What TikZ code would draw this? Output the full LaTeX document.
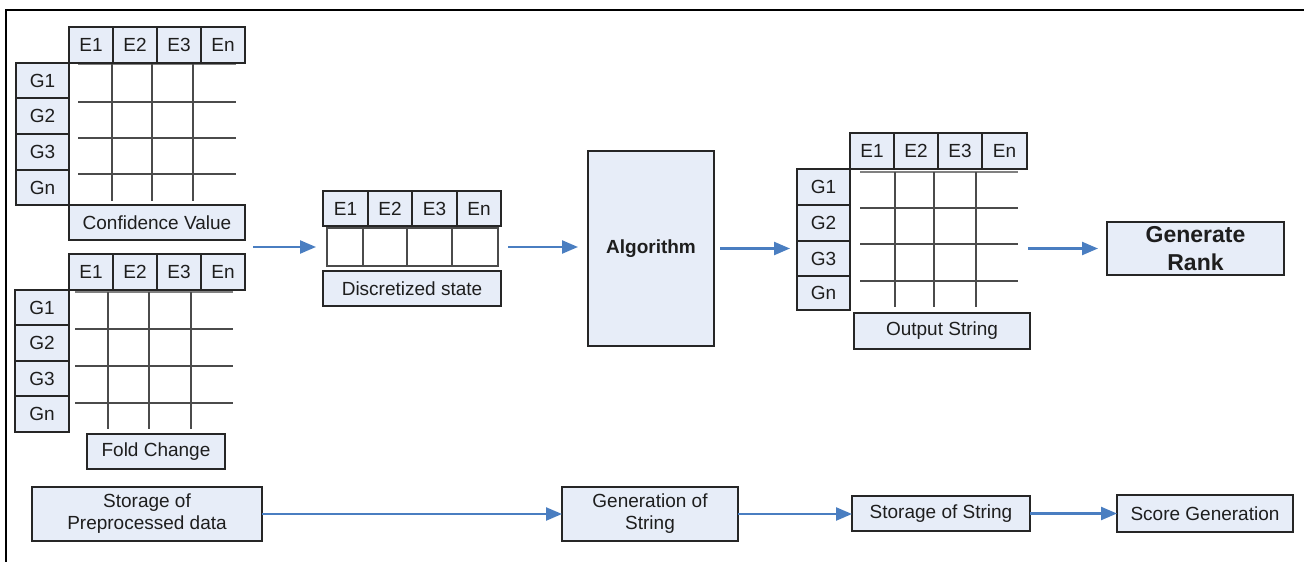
\documentclass[tikz,border=0pt]{standalone}
\usepackage{fontspec}
\setmainfont{Liberation Sans}
\usetikzlibrary{arrows.meta}
\definecolor{boxfill}{RGB}{231,237,248}
\definecolor{arrblue}{RGB}{74,126,193}
\definecolor{gridc}{RGB}{75,75,75}
\definecolor{txt}{RGB}{30,30,30}
\tikzset{
  cellbox/.style={draw=black!85, line width=1.6pt, fill=boxfill, inner sep=0pt, outer sep=0pt,
    text=txt, font=\fontsize{19}{22}\selectfont, align=center},
  emptycell/.style={draw=gridc, line width=1.6pt, fill=white, inner sep=0pt, outer sep=0pt},
  gridline/.style={draw=gridc, line width=2.2pt},
  headline/.style={draw=gray, line width=2.6pt},
  arr/.style={draw=arrblue, line width=2.3pt, -{Triangle[length=16pt,width=13pt]}},
  bigbold/.style={font=\fontsize{23}{28}\selectfont\bfseries},
  midbold/.style={font=\fontsize{19}{22}\selectfont\bfseries},
}
% \mkbox[style]{name}{x1}{y1}{x2}{y2}{text}
\newcommand\mkbox[7][]{\node[cellbox,#1, minimum width={(#5)-(#3)}, minimum height={(#6)-(#4)}] (#2) at ({((#3)+(#5))/2},{((#4)+(#6))/2}) {#7};}
\begin{document}
\begin{tikzpicture}[x=1pt,y=-1pt]
\useasboundingbox (0,0) rectangle (1304,562);
\fill[white] (0,0) rectangle (1304,562);
% frame
\draw[line width=2pt, black] (1304,10) -- (6,10) -- (6,562);

% ---------- Confidence Value table ----------
\draw[headline] (78,64) -- (236,64);
\foreach \yy in {102,138,174} \draw[gridline] (78,\yy) -- (236,\yy);
\foreach \xx in {112,152,193} \draw[gridline] (\xx,64) -- (\xx,201);
\mkbox{cE1}{69}{27}{113}{63}{E1}
\mkbox{cE2}{113}{27}{157}{63}{E2}
\mkbox{cE3}{157}{27}{201}{63}{E3}
\mkbox{cEn}{201}{27}{245}{63}{En}
\mkbox{cG1}{16}{63}{69}{98}{G1}
\mkbox{cG2}{16}{98}{69}{134}{G2}
\mkbox{cG3}{16}{134}{69}{170}{G3}
\mkbox{cGn}{16}{170}{69}{205}{Gn}
\mkbox{cv}{69}{205}{245}{240}{Confidence Value}

% ---------- Fold Change table ----------
\draw[headline] (75,292) -- (233,292);
\foreach \yy in {329,366,403} \draw[gridline] (75,\yy) -- (233,\yy);
\foreach \xx in {108,149,191} \draw[gridline] (\xx,292) -- (\xx,429);
\mkbox{fE1}{69}{254}{113}{290}{E1}
\mkbox{fE2}{113}{254}{157}{290}{E2}
\mkbox{fE3}{157}{254}{201}{290}{E3}
\mkbox{fEn}{201}{254}{245}{290}{En}
\mkbox{fG1}{15}{290}{69}{325}{G1}
\mkbox{fG2}{15}{325}{69}{361}{G2}
\mkbox{fG3}{15}{361}{69}{396}{G3}
\mkbox{fGn}{15}{396}{69}{432}{Gn}
\mkbox{fc}{87}{434}{225}{469}{Fold Change}

% ---------- Discretized state ----------
\mkbox{dE1}{323}{191}{368}{226}{E1}
\mkbox{dE2}{368}{191}{412}{226}{E2}
\mkbox{dE3}{412}{191}{457}{226}{E3}
\mkbox{dEn}{457}{191}{501}{226}{En}
\node[emptycell, minimum width=36pt, minimum height=38pt] (dr1) at (345,247) {};
\node[emptycell, minimum width=44pt, minimum height=38pt] (dr2) at (385,247) {};
\node[emptycell, minimum width=45pt, minimum height=38pt] (dr3) at (429.5,247) {};
\node[emptycell, minimum width=46pt, minimum height=38pt] (dr4) at (475,247) {};
\mkbox{ds}{323}{271}{501}{306}{Discretized state}

% ---------- Algorithm ----------
\mkbox[midbold]{alg}{588}{151}{714}{346}{Algorithm}

% ---------- Output String table ----------
\draw[headline] (860,172) -- (1018,172);
\foreach \yy in {208,244,281} \draw[gridline] (860,\yy) -- (1018,\yy);
\foreach \xx in {895,934,976} \draw[gridline] (\xx,172) -- (\xx,307);
\mkbox{oE1}{850}{133}{894}{169}{E1}
\mkbox{oE2}{894}{133}{938}{169}{E2}
\mkbox{oE3}{938}{133}{982}{169}{E3}
\mkbox{oEn}{982}{133}{1027}{169}{En}
\mkbox{oG1}{797}{169}{850}{205}{G1}
\mkbox{oG2}{797}{205}{850}{241}{G2}
\mkbox{oG3}{797}{241}{850}{276}{G3}
\mkbox{oGn}{797}{276}{850}{310}{Gn}
\mkbox{os}{854}{313}{1030}{349}{Output String}

% ---------- Generate Rank ----------
\mkbox[bigbold]{gr}{1107}{222}{1284}{275}{Generate\\Rank}

% ---------- bottom row ----------
\mkbox{spd}{32}{487}{262}{541}{Storage of\\Preprocessed data}
\mkbox{gos}{562}{487}{738}{541}{Generation of\\String}
\mkbox{sos}{852}{496}{1030}{531}{Storage of String}
\mkbox{sg}{1117}{495}{1293}{532}{Score Generation}

% ---------- arrows ----------
\coordinate (a1s) at (253,247);
\draw[arr, shorten >=11pt] (a1s) -- (dr1.west);
\draw[arr, shorten <=10pt, shorten >=10pt] (dr4.east) -- (dr4.east -| alg.west);
\draw[arr, shorten <=6pt, shorten >=7pt] (alg.east) -- (alg.east -| oG3.west);
\draw[arr, shorten <=1pt, shorten >=9pt] (gr.west -| oEn.east) -- (gr.west);
\draw[arr] (spd.east) -- (spd.east -| gos.west);
\draw[arr] (gos.east) -- (gos.east -| sos.west);
\draw[arr] (sos.east) -- (sos.east -| sg.west);
\end{tikzpicture}
\end{document}
